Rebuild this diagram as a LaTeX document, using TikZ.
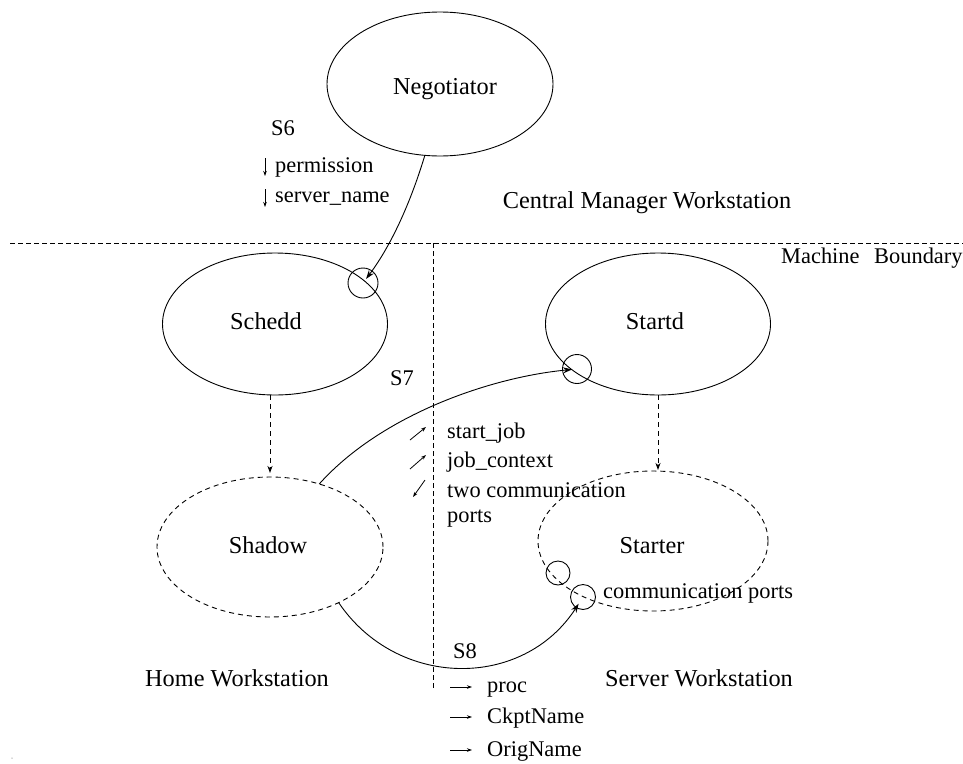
\documentclass[tikz,border=0pt]{standalone}
\usepackage{fontspec}
\setmainfont{Liberation Serif}
\usetikzlibrary{shapes.geometric,arrows.meta,calc}
\tikzset{
  unit/.style={ellipse,draw,line width=0.9pt,inner sep=0pt,outer sep=0pt},
  ghost/.style={unit,dash pattern=on 5pt off 4pt},
  port/.style={circle,draw,line width=0.9pt,inner sep=0pt,outer sep=0pt},
  bigtext/.style={font=\fontsize{24.3}{29}\selectfont,anchor=base,inner sep=0pt},
  note/.style={font=\fontsize{22.4}{27}\selectfont,anchor=base west,inner sep=0pt},
  flow/.style={line width=0.9pt,-{Stealth[length=9pt,width=6pt,inset=3pt]}},
  spawn/.style={line width=0.9pt,dash pattern=on 5pt off 4pt,-{Stealth[length=7pt,width=5pt,inset=2pt]}},
  tick/.style={line width=0.8pt,-{Stealth[length=5pt,width=3.5pt,inset=1.5pt]}},
  fence/.style={line width=0.8pt,dash pattern=on 5pt off 3pt},
}
\begin{document}
\begin{tikzpicture}[x=1pt,y=-1pt]
\useasboundingbox (0,0) rectangle (963,763);

% daemons
\node[unit,minimum width=226pt,minimum height=144pt] (neg) at (440,84) {};
\node[unit,minimum width=225pt,minimum height=142pt] (schedd) at (275,324) {};
\node[unit,minimum width=225pt,minimum height=142pt] (startd) at (658,324) {};
\node[ghost,minimum width=226pt,minimum height=140pt] (shadow) at (270,547) {};
\node[ghost,minimum width=230pt,minimum height=140pt] (starter) at (653,541) {};

\node[bigtext] (tneg) at (445,94) {Negotiator};
\node[bigtext] (tschedd) at (266,329) {Schedd};
\node[bigtext] (tstartd) at (655,329) {Startd};
\node[bigtext] (tshadow) at (268,553) {Shadow};
\node[bigtext] (tstarter) at (652,553) {Starter};

% ports
\node[port,minimum size=30pt] (pneg) at (363,283) {};
\node[port,minimum size=29pt] (pstartd) at (577,369) {};
\node[port,minimum size=24pt] (pidle) at (558,573) {};
\node[port,minimum size=25pt] (pstarter) at (583,597) {};

% machine boundaries
\coordinate (hl) at (10,243);
\coordinate (hr) at (963,243);
\coordinate (vt) at (433,243);
\coordinate (vb) at (433,690);
\draw[fence] (hl) -- (hr);
\draw[fence] (vt) -- (vb);

% workstation labels
\node[bigtext] (tcm) at (647,208) {Central Manager Workstation};
\node[bigtext] (thome) at (237,686) {Home Workstation};
\node[bigtext] (tserver) at (699,686) {Server Workstation};
\node[note] (tmach) at (781,263) {Machine};
\node[note] (tbound) at (874,263) {Boundary};

% connections
\draw[flow,shorten >=5pt] (neg.258) .. controls (412,198) and (393,243) .. (pneg.center);
\draw[flow,shorten >=5pt] (shadow.52) .. controls (382,414) and (492,377) .. (pstartd.center);
\draw[flow,shorten >=8pt] (shadow.321) .. controls (397,689) and (523,690) .. (pstarter.center);
\draw[spawn,shorten >=4pt] (schedd.south -| shadow.north) -- (shadow.north);
\draw[spawn,shorten >=1pt] (startd.south) -- (startd.south |- starter.north);

% step S6
\node[note] (s6) at (271,135) {S6};
\node[note] (tperm) at (275,172) {permission};
\node[note] (tsrv) at (275,202) {server\_name};
\draw[tick] ($(tperm.base west)+(-10,-14)$) -- ($(tperm.base west)+(-10,4)$);
\draw[tick] ($(tsrv.base west)+(-10,-13)$) -- ($(tsrv.base west)+(-10,5)$);

% step S7
\node[note] (s7) at (390,385) {S7};
\node[note] (tsj) at (447,438) {start\_job};
\node[note] (tjc) at (447,467) {job\_context};
\node[note] (ttwo) at (447,497) {two communication};
\node[note] (tports) at (447,522) {ports};
\draw[tick] ($(tsj.base west)+(-37,2)$) -- ($(tsj.base west)+(-21,-11)$);
\draw[tick] ($(tjc.base west)+(-37,2)$) -- ($(tjc.base west)+(-21,-12)$);
\draw[tick] ($(ttwo.base west)+(-22,-17)$) -- ($(ttwo.base west)+(-34,0)$);

\node[note] (tcp) at (603,598) {communication ports};

% step S8
\node[note] (s8) at (453,658) {S8};
\node[note] (tproc) at (487,692) {proc};
\node[note] (tckpt) at (487,723) {CkptName};
\node[note] (torig) at (487,756) {OrigName};
\draw[tick] ($(tproc.base west)+(-37,-5)$) -- ($(tproc.base west)+(-15,-5)$);
\draw[tick] ($(tckpt.base west)+(-37,-6)$) -- ($(tckpt.base west)+(-15,-6)$);
\draw[tick] ($(torig.base west)+(-37,-6)$) -- ($(torig.base west)+(-15,-6)$);

\node[circle,fill=gray!60,minimum size=1.5pt,inner sep=0pt] (speck) at (12,758) {};
\end{tikzpicture}
\end{document}
